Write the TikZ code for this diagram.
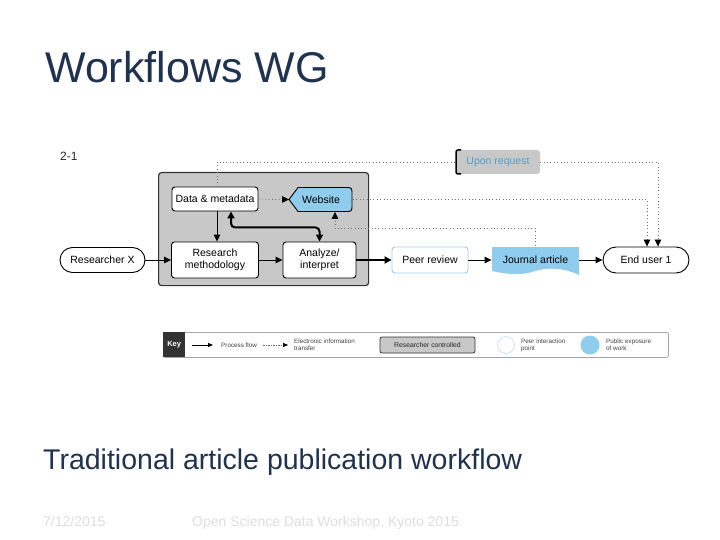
\documentclass[tikz,border=0pt]{standalone}
\usepackage{fontspec}
\setmainfont{Liberation Sans}
\usetikzlibrary{arrows.meta,calc}
\definecolor{navy}{RGB}{31,51,81}
\definecolor{grpgray}{RGB}{200,200,200}
\definecolor{lblue}{RGB}{143,204,238}
\definecolor{peerblue}{RGB}{160,208,232}
\definecolor{upblue}{RGB}{75,160,210}
\definecolor{foot}{RGB}{222,222,222}
\definecolor{dotgray}{RGB}{110,110,110}
\begin{document}
\begin{tikzpicture}[x=1pt,y=-1pt,
  box/.style={draw=black, line width=0.9pt, fill=white, rounded corners=3pt,
    font=\fontsize{10.5}{12}\selectfont, align=center, inner sep=0pt},
  flow/.style={line width=0.9pt, -{Triangle[length=7pt,width=6.5pt]}},
  bigflow/.style={line width=2pt, -{Triangle[length=7pt,width=7pt]}},
  edot/.style={draw=dotgray, line width=0.8pt, dash pattern=on 0.8pt off 2.6pt},
  eflow/.style={edot, -{Triangle[length=7pt,width=6.5pt,color=black]}},
  keytxt/.style={font=\fontsize{6.3}{7}\selectfont, text=black!75, align=left, anchor=west, inner sep=0pt}]
\useasboundingbox (0,0) rectangle (720,540);
\fill[white] (0,0) rectangle (720,540);

% titles
\node[anchor=base west, inner sep=0pt, text=navy, font=\fontsize{43}{50}\selectfont] (title) at (45,83) {Workflows WG};
\node[anchor=base west, inner sep=0pt, text=black!85, font=\fontsize{12}{14}\selectfont] (num) at (60,161) {2-1};
\node[anchor=base west, inner sep=0pt, text=navy, font=\fontsize{28.5}{33}\selectfont] (sub) at (43,469) {Traditional article publication workflow};
\node[anchor=base west, inner sep=0pt, text=foot, font=\fontsize{14}{16}\selectfont] (date) at (43,526) {7/12/2015};
\node[anchor=base west, inner sep=0pt, text=foot, font=\fontsize{14}{16}\selectfont] (event) at (192,526) {Open Science Data Workshop, Kyoto 2015};

% researcher-controlled group
\node[draw=black!80, fill=grpgray, line width=1.2pt, rounded corners=3pt, minimum width=210, minimum height=113, anchor=north west, inner sep=0pt] (grp) at (158,172) {};

\node[box, minimum width=86, minimum height=24] (dm) at (215,199) {Data \& metadata};
\node[box, minimum width=87, minimum height=36] (rm) at (215,260) {Research\\methodology};
\node[box, minimum width=73, minimum height=36] (an) at (319.5,260) {Analyze/\\interpret};
\node[box, minimum width=85, minimum height=25, rounded corners=12.5pt] (rx) at (102.5,260) {Researcher X};
\node[box, draw=peerblue, minimum width=76, minimum height=26] (pr) at (430,260) {Peer review};
\node[box, minimum width=86, minimum height=26, rounded corners=13pt] (eu) at (646,260) {End user 1};

% website shape
\draw[fill=lblue, line width=0.9pt] (289,199.5) -- (298,187.5) -- (345,187.5)
  .. controls (352,187.5) .. (352,194.5) -- (352,204.5)
  .. controls (352,211.5) .. (345,211.5) -- (298,211.5) -- cycle;
\node[box, draw=none, fill=none, minimum width=63, minimum height=24] (web) at (321,199.5) {Website};

% journal article shape
\fill[lblue] (492,249) .. controls (492,247) .. (494,247) -- (577,247) .. controls (579,247) .. (579,249) -- (579,275)
  .. controls (565,268) and (548,267) .. (535,271)
  .. controls (522,276) and (505,274) .. (492,271) -- cycle;
\node[box, draw=none, fill=none, minimum width=87, minimum height=28] (ja) at (535.5,260) {Journal article};

% upon request
\node[fill=grpgray, rounded corners=3pt, minimum width=84, minimum height=24, inner sep=0pt,
  text=upblue, font=\fontsize{10.5}{12}\selectfont] (up) at (498,162) {Upon request};
\draw[line width=1.5pt, rounded corners=2pt] (461,150) -- (456,150) -- (456,174) -- (461,174);

% process flows
\draw[flow] (rx) -- (rm);
\draw[flow] ([xshift=2pt]dm.south) -- ([xshift=2pt]rm.north);
\draw[flow] (rm) -- (an);
\draw[line width=2pt, rounded corners=4pt, {Triangle[length=7pt,width=7pt]}-{Triangle[length=7pt,width=7pt]}]
  ([xshift=16pt]dm.south) -- ++(0,16) -| (an.north);
\draw[bigflow] (an) -- (pr);
\draw[flow] (pr) -- (ja);
\draw[flow] (ja) -- (eu);

% electronic information transfer
\draw[eflow] (dm) -- (web.west);
\draw[edot] ([xshift=2pt]dm.north) |- (up.west);
\draw[eflow] (up.east) -| ([xshift=12pt]eu.north);
\draw[eflow] (web.east) -| ([xshift=1pt]eu.north);
\draw[eflow] (ja.north) -- ++(0,-17) -| ([xshift=14pt]web.south);

% key
\node[draw=gray!70, line width=0.8pt, rounded corners=2pt, minimum width=505, minimum height=25, anchor=north west, inner sep=0pt] (key) at (163,332) {};
\node[fill=black!80, anchor=north west, minimum width=22, minimum height=25, inner sep=0pt, text=white,
  font=\fontsize{7.5}{8}\selectfont\bfseries] (keylab) at (163,332) {Key};
\coordinate (k1a) at (192,345);
\coordinate (k1b) at (213,345);
\draw[line width=0.8pt, -{Triangle[length=5pt,width=4pt]}] (k1a) -- (k1b);
\node[keytxt] (k1) at (221,345) {Process flow};
\coordinate (k2a) at (263,345);
\coordinate (k2b) at (288,345);
\draw[draw=dotgray, line width=0.5pt, dash pattern=on 1.5pt off 1pt, -{Triangle[length=5pt,width=4pt,color=black]}] (k2a) -- (k2b);
\node[keytxt] (k2) at (294,345) {Electronic information\\transfer};
\node[fill=grpgray, draw=black!80, line width=0.8pt, rounded corners=2pt, minimum width=95, minimum height=16, inner sep=0pt,
  font=\fontsize{6.8}{8}\selectfont, text=black!85] (k3) at (427.5,345) {Researcher controlled};
\node[circle, draw=peerblue!70, line width=0.6pt, fill=white, minimum size=17, inner sep=0pt] (k4c) at (506,345) {};
\node[keytxt] (k4) at (521,345) {Peer interaction\\point};
\node[circle, fill=lblue, minimum size=19, inner sep=0pt] (k5c) at (590,345) {};
\node[keytxt] (k5) at (606,345) {Public exposure\\of work};
\end{tikzpicture}
\end{document}
